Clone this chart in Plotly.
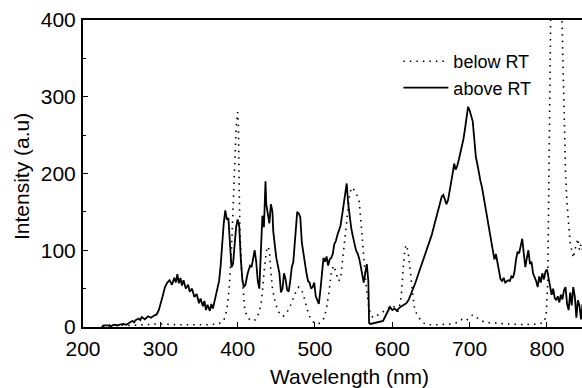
import plotly.graph_objects as go

# ---- data: "above RT" (solid) ----
above_x = [224,228,232,236,240,244,248,252,256,260,264,266,268,272,274,276,280,284,288,292,295,298,
           300,303,306,309,312,315,318,320,322,324,326,328,330,333,336,338,341,344,347,350,352,355,357,
           359,361,364,366,368,370,372,374,376,378,380,382,384,386,388,390,392,394,396,398,400,402,404,
           406,408,410,413,416,418,420,422,424,426,428,430,432,434,436,437,439,441,443,445,446,448,450,
           452,454,456,458,460,462,464,466,468,470,472,474,476,477,479,481,483,485,487,489,491,493,495,
           497,499,501,503,505,507,509,511,513,515,517,519,521,523,525,527,529,531,533,535,537,539,541,
           543,545,547,549,551,553,555,557,559,561,563,565,567,569,570,572,576,580,584,588,591,594,597,
           600,603,606,609,612,615,618,621,624,627,630,633,636,639,642,645,648,651,654,657,660,662,664,
           666,668,670,672,674,676,678,680,682,684,686,688,690,692,694,696,698,700,702,704,706,708,710,
           712,714,716,718,720,722,724,726,728,730,732,734,736,738,740,742,744,746,748,750,752,754,756,
           758,760,762,764,766,768,770,772,774,776,778,780,782,784,786,788,790,792,794,796,798,800,802,
           804,806,808,810,812,814,816,818,820,822,824,826,828,830,832,834,836,838,840,842,844,846]
above_y = [0,2,2,1,3,2,3,4,3,6,8,6,9,11,9,13,10,14,12,15,16,22,
           28,40,52,58,61,55,64,58,69,57,64,54,61,50,55,46,50,39,43,31,37,27,34,
           22,29,21,30,24,33,42,50,60,80,110,135,152,140,142,100,78,82,110,130,140,132,90,
           62,52,55,70,80,78,92,100,85,60,50,90,145,130,190,160,148,135,160,150,125,105,90,
           80,70,45,50,70,62,48,46,60,78,85,110,140,150,148,143,110,95,80,70,60,58,50,
           52,58,40,35,30,48,70,90,85,92,80,88,90,95,108,112,120,125,132,145,160,172,187,
           160,140,128,118,108,100,96,90,80,68,58,70,82,60,5,4,5,6,7,8,14,20,26,
           22,24,21,25,27,29,31,35,42,50,58,67,76,84,92,100,110,120,132,143,155,160,170,
           172,166,160,165,180,188,200,213,205,210,218,226,235,245,258,275,287,282,276,268,245,222,212,
           200,190,182,170,157,146,135,124,112,100,88,95,85,72,62,60,64,58,60,61,60,66,64,
           72,88,98,96,105,115,96,78,90,100,82,85,70,66,60,52,66,58,70,62,72,75,62,
           50,42,50,38,35,40,32,42,36,48,52,30,22,45,28,52,40,12,35,28,10,30]

# ---- data: "below RT" (dotted) ----
below_x = [225,240,260,280,300,320,340,360,375,382,386,389,392,394,396,398,400,401,402,403,405,407,409,
           412,416,420,424,428,431,434,437,439,441,443,445,448,451,455,459,463,467,471,475,479,483,486,
           489,492,496,500,504,508,512,515,518,521,524,527,530,533,536,539,542,545,548,551,554,557,560,
           563,566,569,572,576,580,585,590,595,600,604,607,610,612,614,616,618,620,622,624,626,628,630,
           633,637,641,646,660,675,685,690,695,700,704,708,712,716,720,730,750,770,790,796,799,801,802,
           803,804,805,810,815,819,820,822,824,826,828,830,832,834,836,838,840,842,844,846]
below_y = [2,3,2,3,4,3,3,3,4,8,22,50,100,160,215,260,280,262,180,125,75,45,25,
           14,9,8,10,20,35,70,98,105,100,72,50,35,24,16,14,18,25,35,45,52,48,38,
           26,16,8,5,4,6,12,25,45,70,80,72,60,62,90,120,150,175,182,178,172,165,130,
           90,55,30,15,12,15,18,21,24,28,25,20,30,45,75,100,107,100,85,68,45,28,20,
           14,8,5,3,3,4,6,10,8,12,16,13,10,8,6,5,4,3,4,6,15,60,150,
           260,350,420,470,450,420,380,280,200,160,130,110,100,90,100,110,115,100,108,100]

x_ticks = [200, 300, 400, 500, 600, 700, 800]
y_ticks = [0, 100, 200, 300, 400]
x_title = "Wavelength (nm)"
y_title = "Intensity (a.u)"

FONT = "Liberation Sans, Arial, sans-serif"

fig = go.Figure()
fig.add_trace(go.Scatter(x=below_x, y=below_y, mode="lines", name="below RT",
                         line=dict(color="black", width=1.6, dash="1.5px,5px")))
fig.add_trace(go.Scatter(x=above_x, y=above_y, mode="lines", name="above RT",
                         line=dict(color="black", width=1.8)))

fig.update_layout(
    width=582, height=388,
    margin=dict(l=83, r=0, t=20, b=61),
    paper_bgcolor="white", plot_bgcolor="white",
    font=dict(family=FONT, color="black", size=21),
    showlegend=True,
    legend=dict(x=0.632, y=0.925, xanchor="left", yanchor="top",
                bgcolor="rgba(0,0,0,0)", font=dict(size=18, family=FONT),
                itemwidth=45, tracegroupgap=0),
    xaxis=dict(range=[200, 845.3], tickvals=x_ticks, ticktext=[str(v) for v in x_ticks],
               ticks="inside", ticklen=5, tickwidth=1, tickcolor="black",
               showline=True, linecolor="black", linewidth=2, mirror=True,
               showgrid=False, zeroline=False, tickfont=dict(size=21), ticklabelstandoff=2),
    yaxis=dict(range=[0, 400], tickvals=y_ticks, ticktext=[str(v) for v in y_ticks],
               ticks="inside", ticklen=5, tickwidth=1, tickcolor="black",
               minor=dict(tickvals=[50, 150, 250, 350], ticks="inside", ticklen=3, tickcolor="black"),
               showline=True, linecolor="black", linewidth=2, mirror=False,
               showgrid=False, zeroline=False, tickfont=dict(size=21), ticklabelstandoff=1),
    annotations=[
        dict(text=x_title, xref="paper", yref="paper", x=0.535, y=-0.16,
             xanchor="center", yanchor="middle", showarrow=False, font=dict(size=21)),
        dict(text=y_title, xref="paper", yref="paper", x=-0.122, y=0.489,
             xanchor="center", yanchor="middle", showarrow=False, textangle=-90,
             font=dict(size=21)),
    ],
)

fig.write_html("out.html")
